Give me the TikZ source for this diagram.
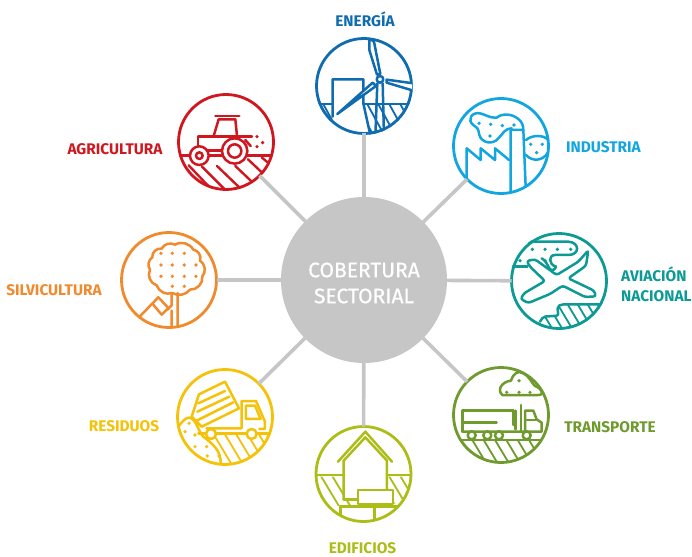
\documentclass[tikz,border=0pt]{standalone}
\usepackage{fontspec}
\setmainfont{Fira Sans}
\definecolor{cEn}{HTML}{0F6CB0}
\definecolor{cIn}{HTML}{12A5E0}
\definecolor{cAv}{HTML}{0C9A94}
\definecolor{cTr}{HTML}{6F9A2E}
\definecolor{cEd}{HTML}{ADBD17}
\definecolor{cRe}{HTML}{F5C20A}
\definecolor{cSi}{HTML}{F08A2D}
\definecolor{cAg}{HTML}{D0161F}
\definecolor{cGr}{HTML}{C6C6C6}
\tikzset{
  ring/.style={circle,draw=#1,line width=2.8pt,fill=white,minimum size=95pt,inner sep=0pt,outer sep=0pt},
  spoke/.style={draw=cGr,line width=3.6pt},
  tag/.style={text=#1,font=\fontsize{15.4}{20}\selectfont\bfseries,inner sep=0pt,align=left},
  ink/.style={draw=#1,fill=#1,text=#1,line width=2.5pt,line join=round,line cap=round},
  crop/.style 2 args={shift={(#1,#2)},x=.3333pt,y=-.3333pt}
}
\newcommand\hatchlines[5]{\begin{scope}\clip #1;\foreach \u in {#2,#3,...,#4}{\draw[fill=none,line width=1.8pt] (\u,0) -- ++(#5,400);}\end{scope}}
\newcommand\spots[1]{\foreach \p in {#1}{\fill \p circle (5.5);}}
\begin{document}
\begin{tikzpicture}[x=1pt,y=-1pt]
\useasboundingbox (0,0) rectangle (692,556);
\node[circle,fill=cGr,minimum size=166pt,inner sep=0pt,outer sep=0pt] (hub) at (364,280) {};
\node[text=white,align=center,inner sep=0pt,font=\fontsize{21}{26}\selectfont\addfontfeature{FakeBold=0.7}] (hubtext) at (364,283) {COBERTURA\\SECTORIAL};
\node[ring=cEn] (energia) at (364,86) {};
\node[ring=cIn] (industria) at (501,146) {};
\node[ring=cAv] (aviacion) at (559,281) {};
\node[ring=cTr] (transporte) at (501,415) {};
\node[ring=cEd] (edificios) at (363.5,474) {};
\node[ring=cRe] (residuos) at (225,417) {};
\node[ring=cSi] (silvicultura) at (169,280) {};
\node[ring=cAg] (agricultura) at (226,142) {};
\foreach \n in {energia,industria,aviacion,transporte,edificios,residuos,silvicultura,agricultura}{\draw[spoke] (hub) -- (\n);}
\node[tag=cEn] (tEn) at (365,19) {ENERGÍA};
\node[tag=cIn] (tIn) at (603.5,147) {INDUSTRIA};
\node[tag=cAv,anchor=west] (tAv) at (621,284) {AVIACIÓN\\NACIONAL};
\node[tag=cTr] (tTr) at (610,427) {TRANSPORTE};
\node[tag=cEd] (tEd) at (362.5,548) {EDIFICIOS};
\node[tag=cRe] (tRe) at (124,426) {RESIDUOS};
\node[tag=cSi] (tSi) at (54,290) {SILVICULTURA};
\node[tag=cAg] (tAg) at (115,149) {AGRICULTURA};

% Energia
\begin{scope}[crop={300}{0},ink=cEn]
\clip (192,259) circle (146);
\hatchlines{(50,312) rectangle (98,360)}{-300}{-267}{400}{220}
\hatchlines{(190,312) -- (340,312) -- (340,410) -- (212,410) -- cycle}{-300}{-267}{400}{220}
\draw[fill=none] (40,312) -- (98,312) (190,312) -- (340,312);
\draw[fill=none] (98,350) -- (98,238) -- (190,238) -- (190,310) -- (212,410);
\draw[fill=none] (232,250) -- (226,410) (248,250) -- (252,410);
\draw[fill=white] (112,342) -- (218,248) -- (228,258) -- cycle;
\draw[fill=white] (231,224) -- (208,150) -- (208,115) -- (222,125) -- (241,222) -- cycle;
\draw[fill=white] (260,239) -- (340,250) -- (340,272) -- (260,248) -- cycle;
\draw[fill=white] (240,238) circle (10);
\end{scope}

% Industria
\begin{scope}[crop={440}{95},ink=cIn]
\clip (183,152) circle (143);
\draw[fill=none] (215,100) .. controls (195,100) and (190,115) .. (175,130) .. controls (160,150) and (125,145) .. (118,120) .. controls (115,100) and (110,95) .. (100,90) .. controls (80,75) and (95,50) .. (120,55) .. controls (135,58) and (150,70) .. (170,68) .. controls (185,55) and (215,55) .. (235,72) .. controls (245,80) and (250,90) .. (250,105);
\draw[fill=none] (212,290) -- (212,105) -- (250,105) -- (257,275);
\draw[fill=none] (258,135) .. controls (275,120) and (310,118) .. (325,135);
\draw[fill=none] (325,170) .. controls (310,200) and (275,200) .. (258,180);
\draw[fill=none] (80,250) -- (80,160) -- (122,195) -- (122,160) -- (165,195) -- (165,160) -- (207,195);
\spots{(117,85),(152,88),(187,92),(222,90),(150,123),(272,148),(307,148),(290,173)}
\end{scope}

% Aviacion
\begin{scope}[crop={500}{225},ink=cAv]
\clip (177,167) circle (147);
\hatchlines{(120,290) -- (130,275) -- (175,272) -- (172,245) -- (185,238) -- (330,238) -- (330,330) -- (120,330) -- cycle}{-300}{-270}{400}{240}
\draw[fill=none] (60,50) -- (205,50) .. controls (240,52) and (240,90) .. (205,90) -- (165,90) .. controls (145,90) and (145,118) .. (168,125);
\draw[fill=none] (168,125) .. controls (165,135) and (155,140) .. (148,130) .. controls (140,115) and (135,105) .. (125,100);
\draw[fill=none] (30,125) -- (82,125);
\draw[fill=none,rounded corners=2pt] (120,290) -- (130,275) -- (175,272) -- (172,245) -- (185,238) -- (330,238);
\draw[fill=white,rounded corners=2.5pt] (265,76) -- (235,110) -- (170,150) -- (105,103) -- (80,108) -- (90,125) -- (135,168) -- (72,205) -- (62,222) -- (85,234) -- (150,207) -- (188,182) -- (255,216) -- (288,214) -- (282,197) -- (205,160) -- (258,122) -- cycle;
\spots{(97,73),(135,73),(172,73),(212,73),(60,107),(135,107)}
\end{scope}

% Transporte
\begin{scope}[crop={445}{360},ink=cTr]
\clip (167,166) circle (144);
\hatchlines{(20,240) rectangle (320,320)}{-300}{-266}{400}{240}
\draw[fill=none] (20,240) -- (315,240);
\draw[fill=none] (172,105) .. controls (155,90) and (170,65) .. (198,62) .. controls (205,40) and (220,30) .. (235,40) .. controls (255,50) and (260,70) .. (270,78) .. controls (290,85) and (300,105) .. (280,105) -- cycle;
\draw[fill=none] (52,215) -- (52,152) -- (205,152) -- (205,195) (55,187) -- (155,187);
\draw[fill=none] (52,215) -- (290,215) -- (290,188) -- (275,178) -- (265,152) -- (240,152) -- (240,215);
\draw[fill=none] (228,135) -- (228,212) (212,152) -- (212,208) (245,180) -- (272,180);
\draw[fill=white] (80,226) circle (12) (127,226) circle (12) (162,226) circle (12) (245,226) circle (12);
\spots{(222,62),(185,97),(222,97),(255,97)}
\end{scope}

% Edificios
\begin{scope}[crop={308}{420},ink=cEd]
\clip (166,162) circle (144);
\hatchlines{(20,170) -- (105,170) -- (105,238) -- (150,238) -- (150,258) -- (20,258) -- cycle}{-300}{-266}{400}{240}
\hatchlines{(238,170) -- (320,170) -- (320,270) -- (258,250) -- (258,208) -- (238,208) -- cycle}{-300}{-266}{400}{240}
\draw[fill=none] (20,165) -- (105,165) (237,165) -- (312,165);
\draw[fill=none] (107,238) -- (107,122) -- (172,52) -- (237,122) -- (237,207);
\draw[fill=none] (90,125) -- (172,35) -- (252,125);
\draw[fill=none] (107,238) -- (150,238);
\draw[fill=none] (150,210) rectangle (255,252);
\draw[fill=none] (97,290) -- (97,260) -- (275,260) (200,260) -- (200,305);
\end{scope}

% Residuos
\begin{scope}[crop={170}{365},ink=cRe]
\clip (165,155) circle (143);
\hatchlines{(130,210) -- (310,205) -- (310,310) -- (150,310) -- (150,265) -- cycle}{-300}{-266}{400}{240}
\draw[fill=none] (65,155) -- (87,88) -- (165,50) -- (207,130) -- (95,185) -- cycle;
\draw[fill=none] (85,115) -- (165,78) (82,140) -- (178,95) (80,167) -- (190,112);
\draw[fill=none] (110,190) -- (215,190) -- (215,108) -- (258,108) -- (285,170) -- (285,192) -- (268,192);
\draw[fill=none] (228,122) -- (255,122) -- (272,162) -- (228,162) -- cycle;
\draw[fill=none] (85,205) -- (108,205) (138,205) -- (230,205) (260,205) -- (300,205);
\draw[fill=white] (123,207) circle (15) (245,207) circle (15);
\draw[fill=none] (25,185) .. controls (35,170) and (50,155) .. (60,158) .. controls (80,165) and (85,200) .. (100,215) .. controls (125,235) and (155,255) .. (152,300);
\spots{(57,175),(75,210),(75,245),(110,245),(112,273),(147,273),(45,200),(40,240)}
\end{scope}

% Silvicultura
\begin{scope}[crop={115}{228},ink=cSi]
\clip (161,157) circle (143);
\draw[fill=none] (112,88) to[bend left=55] (140,62) to[bend left=45] (180,50) to[bend left=45] (235,65) to[bend left=50] (255,98) to[bend left=50] (262,145) to[bend left=50] (225,185) to[bend left=40] (172,195) to[bend left=45] (125,172) to[bend left=50] (105,125) to[bend left=45] cycle;
\draw[fill=none] (170,195) -- (170,232) -- (157,245) (188,195) -- (188,300) (170,248) -- (170,300);
\draw[fill=none] (70,270) -- (130,208);
\draw[fill=none] (130,208) -- (160,240) -- (140,260) -- (115,230);
\spots{(138,76),(172,76),(208,76),(138,111),(172,111),(208,111),(243,111),(138,145),(172,145),(208,145),(243,145),(172,175),(208,175)}
\end{scope}

% Agricultura
\begin{scope}[crop={172}{90},ink=cAg]
\clip (163,157) circle (143);
\draw[fill=none] (20,197) -- (60,197) (110,197) -- (305,197);
\draw[fill=none,line width=2.4pt] (50,226) -- (125,305) (90,230) -- (165,305) (135,228) -- (210,300) (190,228) -- (255,290) (228,208) -- (285,262) (270,203) -- (300,228);
\draw[fill=none] (130,78) -- (202,78);
\draw[fill=none] (125,138) -- (140,88) -- (190,88) -- (195,138);
\draw[fill=none] (78,170) -- (78,140) -- (240,140);
\draw[fill=none] (105,182) -- (155,182);
\draw[fill=white] (188,183) circle (38) (188,183) circle (20);
\draw[fill=white] (82,197) circle (28) (82,197) circle (10);
\draw[fill=none] (220,150) -- (236,168);
\spots{(255,140),(272,158),(255,170)}
\end{scope}
\end{tikzpicture}
\end{document}
